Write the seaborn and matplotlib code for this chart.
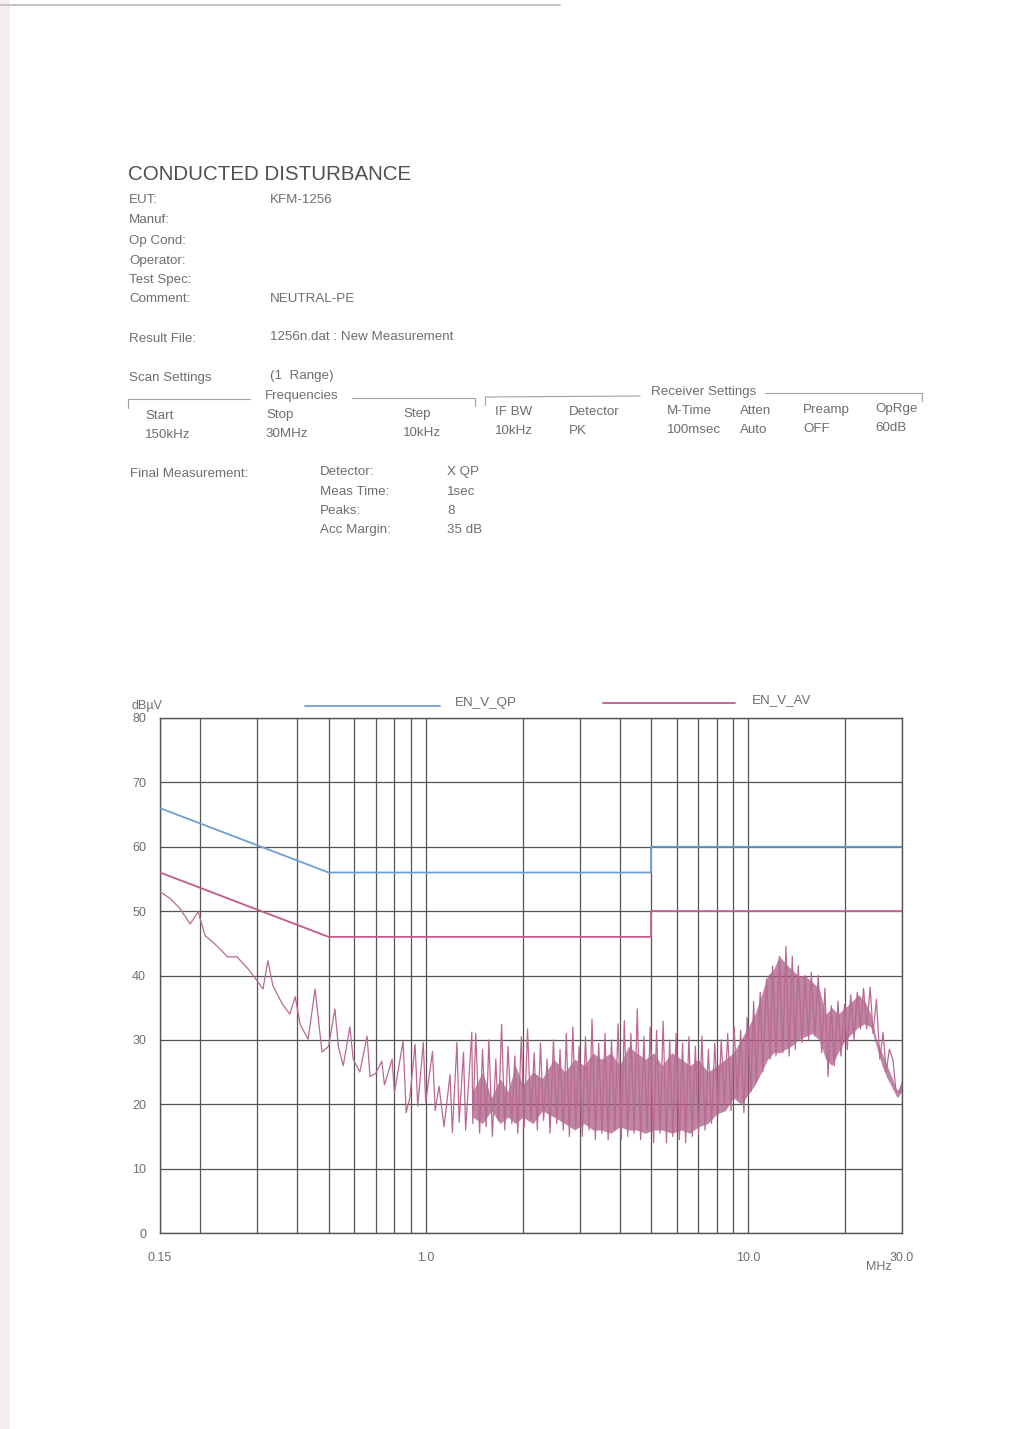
import matplotlib
matplotlib.use("Agg")
import numpy as np
import pandas as pd
import matplotlib.pyplot as plt
import seaborn as sns
from matplotlib.lines import Line2D
from matplotlib.patches import Rectangle
from matplotlib.ticker import FixedLocator, NullFormatter

# ---------------------------------------------------------------- data
# limit lines (MHz, dBuV)
qp_freq = [0.15, 0.5, 5.0, 5.0, 30.0]
qp_level = [66, 56, 56, 60, 60]
av_freq = [0.15, 0.5, 5.0, 5.0, 30.0]
av_level = [56, 46, 46, 50, 50]

# peak scan, low band (0.15 - 1.4 MHz)
trace_freq_low = [0.150, 0.161, 0.173, 0.186, 0.197, 0.207, 0.222, 0.243, 0.260, 0.285,
                  0.313, 0.324, 0.336, 0.359, 0.379, 0.394, 0.408, 0.432, 0.454, 0.477,
                  0.500, 0.523, 0.536, 0.555, 0.582, 0.596, 0.625, 0.658, 0.672, 0.700,
                  0.731, 0.745, 0.787, 0.800, 0.851, 0.870, 0.893, 0.927, 0.945, 0.983,
                  1.000, 1.050, 1.070, 1.100, 1.140, 1.190, 1.210, 1.250, 1.270, 1.310,
                  1.330, 1.390]
trace_level_low = [53.0, 52.0, 50.4, 48.0, 49.9, 46.2, 44.9, 42.9, 42.9, 40.7,
                   37.9, 42.3, 38.4, 35.6, 34.0, 36.7, 32.4, 30.1, 37.9, 28.1,
                   29.0, 34.8, 29.0, 26.0, 32.0, 27.0, 25.0, 30.6, 24.3, 24.8,
                   26.7, 23.0, 27.0, 21.8, 29.8, 18.7, 21.0, 29.3, 19.7, 29.6,
                   20.3, 28.2, 19.0, 22.8, 16.5, 24.6, 15.6, 29.6, 17.2, 28.1,
                   16.0, 31.2]

# peak scan, high band (1.4 - 30 MHz), spikes and valleys
trace_freq_high = [1.40, 1.43, 1.47, 1.50, 1.54, 1.57, 1.61, 1.65, 1.68, 1.72,
                   1.76, 1.80, 1.85, 1.89, 1.93, 1.98, 2.02, 2.07, 2.12, 2.17,
                   2.22, 2.27, 2.32, 2.38, 2.43, 2.49, 2.55, 2.61, 2.67, 2.73,
                   2.79, 2.86, 2.92, 2.99, 3.06, 3.13, 3.21, 3.28, 3.36, 3.44,
                   3.52, 3.60, 3.68, 3.77, 3.86, 3.95, 4.04, 4.13, 4.23, 4.33,
                   4.43, 4.53, 4.64, 4.75, 4.86, 4.97, 5.09, 5.20, 5.33, 5.45,
                   5.58, 5.71, 5.84, 5.98, 6.12, 6.26, 6.40, 6.55, 6.71, 6.86,
                   7.02, 7.19, 7.35, 7.53, 7.70, 7.88, 8.07, 8.25, 8.45, 8.64,
                   8.85, 9.05, 9.26, 9.48, 9.70, 9.93, 10.2, 10.4, 10.6, 10.9,
                   11.1, 11.4, 11.7, 11.9, 12.2, 12.5, 12.8, 13.1, 13.4, 13.7,
                   14.0, 14.3, 14.7, 15.0, 15.4, 15.7, 16.1, 16.5, 16.9, 17.3,
                   17.7, 18.1, 18.5, 19.0, 19.4, 19.9, 20.3, 20.8, 21.3, 21.8,
                   22.3, 22.8, 23.3, 23.9, 24.4, 25.0, 25.6, 26.2, 26.8, 27.4,
                   28.1, 28.7, 29.4, 30.0]
trace_level_high = [17.0, 31.0, 15.5, 28.5, 16.5, 30.0, 15.0, 27.0, 17.5, 32.4,
                    16.0, 29.0, 17.0, 27.5, 15.5, 30.5, 16.5, 31.7, 17.5, 28.0,
                    16.0, 29.5, 17.5, 27.0, 15.5, 30.0, 17.0, 28.5, 16.0, 31.0,
                    15.0, 32.0, 16.5, 29.0, 15.0, 30.5, 16.0, 33.2, 14.5, 29.5,
                    15.5, 31.0, 14.5, 30.0, 16.0, 32.5, 14.5, 33.0, 15.0, 31.0,
                    15.5, 34.8, 14.5, 30.5, 16.0, 32.0, 14.0, 31.5, 15.5, 32.9,
                    14.0, 30.0, 15.0, 31.0, 14.5, 29.5, 14.0, 30.5, 15.0, 29.0,
                    15.5, 30.6, 16.0, 28.5, 17.0, 29.5, 18.5, 30.0, 20.0, 31.0,
                    19.0, 32.1, 21.0, 31.5, 18.7, 33.5, 22.0, 36.0, 23.4, 37.4,
                    25.0, 39.5, 27.0, 41.5, 27.5, 43.0, 28.0, 44.5, 27.5, 43.0,
                    28.5, 41.5, 29.6, 40.0, 30.0, 40.5, 30.6, 40.0, 28.0, 38.0,
                    24.3, 35.3, 26.0, 36.0, 27.5, 35.5, 28.5, 37.0, 30.0, 37.4,
                    31.7, 38.0, 31.7, 38.2, 31.0, 36.3, 27.0, 31.2, 25.0, 28.5,
                    27.0, 22.3, 21.8, 23.4]

# densely packed core of the scan (where neighbouring sweeps merge)
band_freq = [1.4, 1.5, 1.6, 1.7, 1.8, 1.9, 2.0, 2.15, 2.3, 2.5, 2.7, 2.9,
             3.1, 3.3, 3.5, 3.75, 4.0, 4.25, 4.5, 4.8, 5.1, 5.4, 5.8, 6.2,
             6.6, 7.0, 7.5, 8.0, 8.5, 9.0, 9.5, 10.0, 10.5, 11.0, 11.5, 12.0,
             12.5, 13.0, 13.6, 14.3, 15.0, 15.8, 16.6, 17.4, 18.2, 19.0, 20.0,
             21.0, 22.0, 23.0, 24.0, 25.0, 26.0, 27.0, 28.0, 29.0, 30.0]
band_top = [22, 25, 21, 24, 22, 26, 23, 25, 24, 27, 25, 27,
            26, 28, 27, 28, 26, 29, 28, 27, 28, 26, 28, 27,
            26, 27, 25, 26, 27, 28, 30, 32, 34, 37, 40, 41,
            43, 42, 41, 40, 40, 39, 38, 34, 35, 34, 35,
            36, 37, 36, 34, 30, 28, 26, 24, 22, 23.5]
band_bottom = [18, 17, 19, 17, 18, 17, 18, 17, 19, 18, 17, 16,
               17, 16, 16, 15.5, 16.5, 16, 16, 15.5, 16, 16, 15.5, 16,
               15.5, 16.5, 17, 18.5, 19, 21, 20, 21.5, 23, 25, 27, 28,
               28, 28.5, 29, 30, 30.5, 31, 30, 27, 26, 28, 30,
               31, 32, 32.5, 32, 29, 26, 24, 22.5, 21, 22]

y_ticks = [0, 10, 20, 30, 40, 50, 60, 70, 80]
x_major = [0.15, 1.0, 10.0, 30.0]
x_major_labels = ["0.15", "1.0", "10.0", "30.0"]
x_minor = [0.2, 0.3, 0.4, 0.5, 0.6, 0.7, 0.8, 0.9,
           2, 3, 4, 5, 6, 7, 8, 9, 20]

# ---------------------------------------------------------------- style
sns.set_style("white")
plt.rcParams["font.family"] = ["Liberation Sans", "DejaVu Sans"]

W, H = 1028, 1429
TEXT = "#6e6e6e"
GRID = "#555555"
QP_COLOR = "#6e9fd2"
AV_COLOR = "#c4598c"
TRACE = "#bb6893"
TRACE_CORE = "#a4577f"

fig = plt.figure(figsize=(W / 100, H / 100), dpi=100)
fig.patch.set_facecolor("white")


def put(x, y, s, size=9.6, color=TEXT, **kw):
    fig.text(x / W, 1 - y / H, s, fontsize=size, color=color,
             ha=kw.pop("ha", "left"), va=kw.pop("va", "center"), **kw)


def rule(x0, y0, x1, y1, color="#a0a0a0", lw=0.8):
    fig.add_artist(Line2D([x0 / W, x1 / W], [1 - y0 / H, 1 - y1 / H],
                          color=color, lw=lw, transform=fig.transFigure))


# faint paper edges
fig.add_artist(Rectangle((0, 0), 10 / W, 1, transform=fig.transFigure,
                         color="#f5eeee", lw=0))
rule(0, 5, 560, 5, color="#c4c4c4", lw=1.4)

# ---------------------------------------------------------------- header
put(128, 175, "CONDUCTED DISTURBANCE", size=14.8, color="#505050")
for y, s in [(200, "EUT:"), (220, "Manuf:"), (241, "Op Cond:"), (261, "Operator:"),
             (280, "Test Spec:"), (299, "Comment:"), (339, "Result File:"),
             (378, "Scan Settings")]:
    put(129, y, s)
put(270, 200, "KFM-1256")
put(270, 299, "NEUTRAL-PE")
put(270, 337, "1256n.dat : New Measurement")
put(270, 376, "(1  Range)")
put(265, 396, "Frequencies")
put(651, 392, "Receiver Settings")

rule(128, 399, 250, 399)
rule(128, 399, 128, 408)
rule(352, 398, 475, 398)
rule(475, 398, 475, 406)
rule(485, 397, 640, 396)
rule(485, 397, 485, 405)
rule(765, 393, 922, 393)
rule(922, 393, 922, 401)

columns = [(145, 416, "Start", "150kHz"), (266, 415, "Stop", "30MHz"),
           (403, 414, "Step", "10kHz"), (495, 412, "IF BW", "10kHz"),
           (569, 412, "Detector", "PK"), (667, 411, "M-Time", "100msec"),
           (740, 411, "Atten", "Auto"), (803, 410, "Preamp", "OFF"),
           (875, 409, "OpRge", "60dB")]
for x, y, head, val in columns:
    put(x, y, head)
    put(x, y + 19, val)

put(130, 474, "Final Measurement:")
for y, k, v in [(472, "Detector:", "X QP"), (492, "Meas Time:", "1sec"),
                (511, "Peaks:", "8"), (530, "Acc Margin:", "35 dB")]:
    put(320, y, k)
    put(447, y, v)

# ---------------------------------------------------------------- chart
ax = fig.add_axes([160 / W, 1 - 1233 / H, 742 / W, 515 / H])
ax.set_xscale("log")
ax.set_facecolor("white")

ax.fill_between(band_freq, band_bottom, band_top, color=TRACE_CORE,
                alpha=0.72, lw=0, zorder=2)

trace = pd.DataFrame({"freq": trace_freq_low + trace_freq_high,
                      "level": trace_level_low + trace_level_high})
sns.lineplot(data=trace, x="freq", y="level", estimator=None, sort=False,
             color=TRACE, lw=0.9, ax=ax, zorder=3)

qp = pd.DataFrame({"freq": qp_freq, "level": qp_level})
av = pd.DataFrame({"freq": av_freq, "level": av_level})
sns.lineplot(data=qp, x="freq", y="level", estimator=None, sort=False,
             color=QP_COLOR, lw=1.3, ax=ax, zorder=4)
sns.lineplot(data=av, x="freq", y="level", estimator=None, sort=False,
             color=AV_COLOR, lw=1.3, ax=ax, zorder=4)

ax.set_xlim(0.15, 30)
ax.set_ylim(0, 80)
ax.set_xlabel("")
ax.set_ylabel("")
ax.xaxis.set_major_locator(FixedLocator(x_major))
ax.set_xticklabels(x_major_labels)
ax.xaxis.set_minor_locator(FixedLocator(x_minor))
ax.xaxis.set_minor_formatter(NullFormatter())
ax.set_yticks(y_ticks)
ax.set_yticklabels([str(v) for v in y_ticks])
ax.tick_params(which="both", length=0, labelsize=9, labelcolor=TEXT)
ax.tick_params(axis="y", pad=10)
ax.tick_params(axis="x", pad=14)
ax.grid(which="both", axis="x", color=GRID, lw=0.9)
ax.grid(which="major", axis="y", color=GRID, lw=0.9)
ax.set_axisbelow(True)
for sp in ax.spines.values():
    sp.set_visible(True)
    sp.set_color(GRID)
    sp.set_linewidth(1.0)

put(131, 706, "dBµV", size=9)
put(866, 1267, "MHz", size=9)

# legend
rule(305, 706, 440, 706, color=QP_COLOR, lw=1.3)
put(455, 703, "EN_V_QP")
rule(603, 703, 735, 703, color=AV_COLOR, lw=1.3)
put(752, 700, "EN_V_AV")

fig.savefig("out.png", dpi=100, facecolor="white")
